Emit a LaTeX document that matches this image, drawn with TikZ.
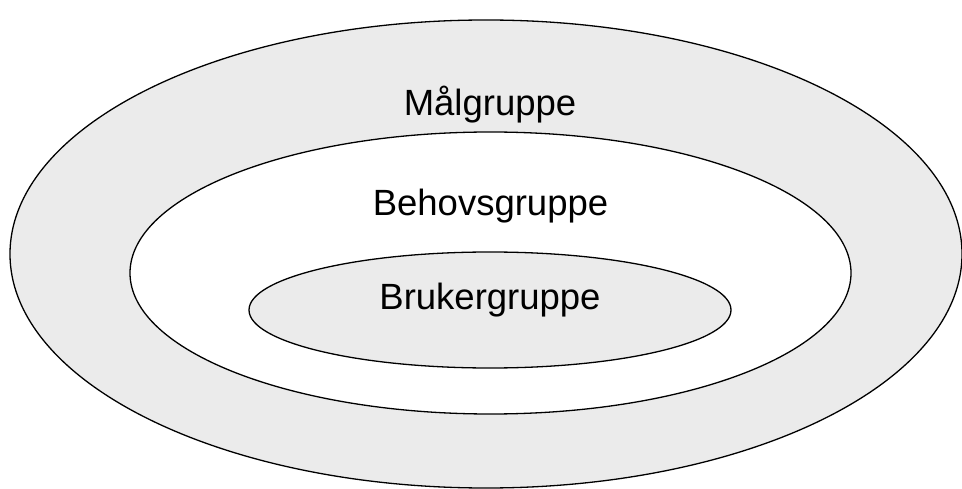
\documentclass[tikz,border=0pt]{standalone}
\usepackage{fontspec}
\setmainfont{Liberation Sans}
\definecolor{ringgray}{RGB}{235,235,235}
\tikzset{
  ring/.style={draw=black,line width=1.3pt},
  grouplabel/.style={anchor=base,inner sep=0pt,font=\fontsize{36.5}{40}\selectfont}
}
\begin{document}
\begin{tikzpicture}[x=1pt,y=-1pt]
\useasboundingbox (0,0) rectangle (962,489);
% drawing ellipses
\foreach \cx/\cy/\rx/\ry/\col in {486/254/476/234/ringgray,490.5/273/360.5/141/white,490/310/241/58/ringgray}{
  \draw[ring,fill=\col] (\cx,\cy) ellipse [x radius=\rx, y radius=\ry];
}
% drawing labels
\node[grouplabel] (maal) at (490,116) {Målgruppe};
\node[grouplabel] (behov) at (490.5,215.5) {Behovsgruppe};
\node[grouplabel] (bruker) at (490,310) {Brukergruppe};
\end{tikzpicture}
\end{document}
